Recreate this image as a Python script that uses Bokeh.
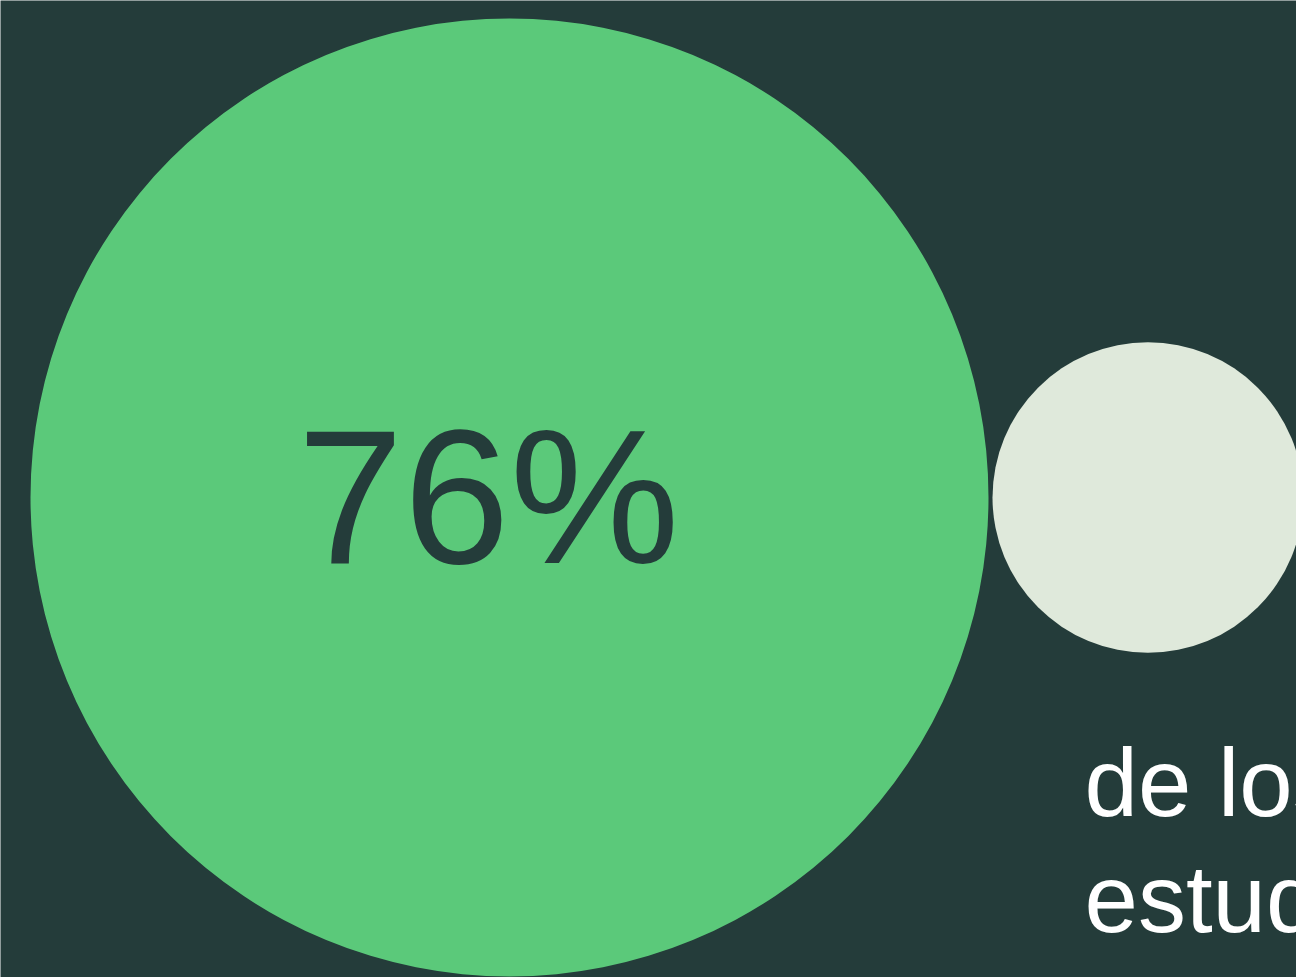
import numpy as np
from bokeh.plotting import figure
from bokeh.models import Range1d
from bokeh.core.properties import value
from bokeh.embed import file_html
from bokeh.resources import INLINE

# Data
labels = ["76%", ""]
values = [76, 8]
caption_lines = ["de los", "estudiantes"]

BG = "#243c3a"
colors = ["#5bc97a", "#dfe9db"]

W, H = 1296, 977

p = figure(width=W, height=H, output_backend="svg", toolbar_location=None,
           x_range=Range1d(0, W), y_range=Range1d(H, 0),
           min_border=0, outline_line_color=None)
p.axis.visible = False
p.grid.visible = False
p.background_fill_color = BG
p.border_fill_color = BG

# bubble sizes from values (area proportional)
k = 479 / np.sqrt(values[0])
r = [k * np.sqrt(v) for v in values]
gap = 4
left = 30
cy = 497
cx = [left + r[0], left + 2 * r[0] + gap + r[1]]

p.circle(x=cx, y=[cy, cy], radius=r, fill_color=colors, line_color=None)

BIG_FS = 191
CAP_FS = 96
SHIFT = 0.35  # svg baseline correction

p.text(x=[cx[0] - 21], y=[563 - SHIFT * BIG_FS], text=[labels[0]], text_align="center",
       text_baseline="alphabetic", text_font=value("Liberation Sans"),
       text_font_size=f"{BIG_FS}px", text_color=BG)

p.text(x=[1084, 1084], y=[816 - SHIFT * CAP_FS, 932 - SHIFT * CAP_FS], text=caption_lines,
       text_align="left", text_baseline="alphabetic", text_font=value("Liberation Sans"),
       text_font_size=f"{CAP_FS}px", text_color="#ffffff")

open("out.html", "w").write(file_html(p, INLINE))
